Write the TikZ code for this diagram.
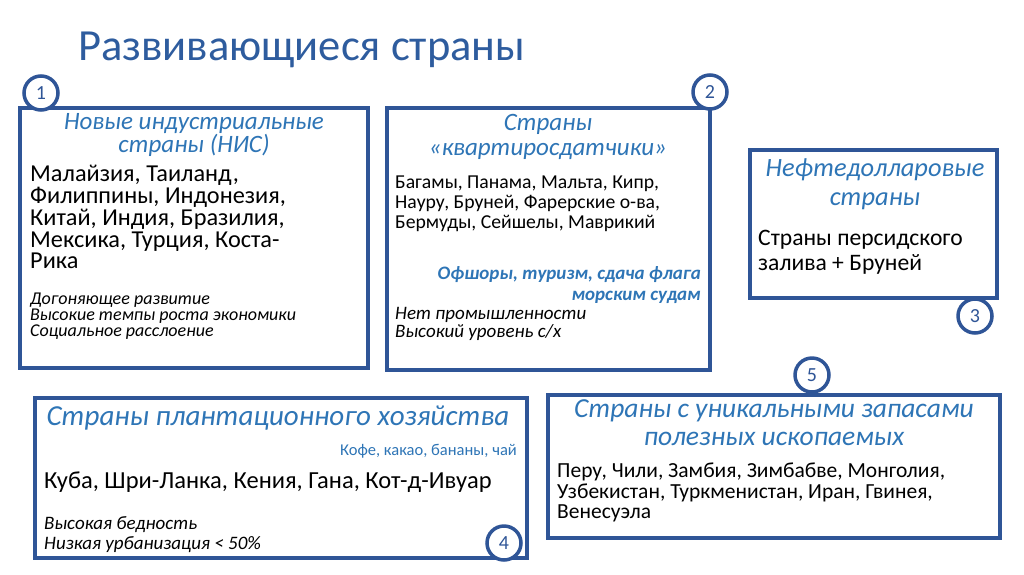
\documentclass[tikz,border=0pt]{standalone}
\usepackage{fontspec}
\setmainfont{Carlito}
\definecolor{bord}{HTML}{2F5597}
\definecolor{ttl}{HTML}{2E5C9E}
\definecolor{hd}{HTML}{2E75B6}
\tikzset{
  box/.style={draw=bord,line width=3.5pt,fill=white},
  num/.style={circle,draw=bord,line width=3.5pt,fill=white,minimum size=34pt,inner sep=0pt,font=\fontsize{20}{20}\selectfont\color{bord}},
  head/.style={align=center,text=hd,inner sep=0pt},
  body/.style={align=left,anchor=north west,inner sep=0pt},
}
\begin{document}
\begin{tikzpicture}[x=1pt,y=-1pt]
\useasboundingbox (0,0) rectangle (1024,574);
\node[anchor=west,text=ttl,font=\fontsize{44.5}{44}\selectfont,inner sep=0pt] (title) at (78,50) {Развивающиеся страны};
% box 1
\draw[box] (20,108) rectangle (368,368);
\node[num] (n1) at (41,93) {1};
\node[head,font=\fontsize{25}{22}\selectfont\itshape] (h1) at (194,135) {Новые индустриальные\\страны (НИС)};
\node[body,font=\fontsize{24.3}{21.8}\selectfont] (b1) at (30,165) {Малайзия, Таиланд,\\Филиппины, Индонезия,\\Китай, Индия, Бразилия,\\Мексика, Турция, Коста-\\Рика};
\node[body,font=\fontsize{18}{16}\selectfont\itshape] (c1) at (30,293) {Догоняющее развитие\\Высокие темпы роста экономики\\Социальное расслоение};
% box 2
\draw[box] (387,108) rectangle (710,370);
\node[num] (n2) at (710,92) {2};
\node[head,font=\fontsize{25}{25}\selectfont\itshape] (h2) at (548,137) {Страны\\«квартиросдатчики»};
\node[body,font=\fontsize{19.7}{20}\selectfont] (b2) at (395,176) {Багамы, Панама, Мальта, Кипр,\\Науру, Бруней, Фарерские о-ва,\\Бермуды, Сейшелы, Маврикий};
\node[align=right,anchor=north east,inner sep=0pt,text=hd,font=\fontsize{19}{21}\selectfont\bfseries\itshape] (o2) at (701,266) {Офшоры, туризм, сдача флага\\морским судам};
\node[body,font=\fontsize{19}{18}\selectfont\itshape] (c2) at (395,307) {Нет промышленности\\Высокий уровень с/х};
% box 3
\draw[box] (750,150) rectangle (997,298);
\node[num] (n3) at (975,316) {3};
\node[head,font=\fontsize{26.4}{29}\selectfont\itshape] (h3) at (875,184) {Нефтедолларовые\\страны};
\node[body,font=\fontsize{23.6}{25}\selectfont] (b3) at (758,230) {Страны персидского\\залива + Бруней};
% box 4
\draw[box] (35,398) rectangle (527,558);
\node[head,font=\fontsize{29}{29}\selectfont\itshape] (h4) at (278,418) {Страны плантационного хозяйства};
\node[anchor=east,inner sep=0pt,text=hd,font=\fontsize{16.5}{16}\selectfont] (k4) at (517,451) {Кофе, какао, бананы, чай};
\node[anchor=west,inner sep=0pt,font=\fontsize{24.5}{24}\selectfont] (b4) at (44,482) {Куба, Шри-Ланка, Кения, Гана, Кот-д-Ивуар};
\node[body,font=\fontsize{19}{20}\selectfont\itshape] (c4) at (44,516) {Высокая бедность\\Низкая урбанизация < 50\%};
\node[num] (n4) at (504,543) {4};
% box 5
\draw[box] (548,395) rectangle (1000,538);
\node[num] (n5) at (812,375) {5};
\node[head,font=\fontsize{27.5}{28}\selectfont\itshape] (h5) at (774,423) {Страны с уникальными запасами\\полезных ископаемых};
\node[body,font=\fontsize{21.5}{20.5}\selectfont] (b5) at (557,463) {Перу, Чили, Замбия, Зимбабве, Монголия,\\Узбекистан, Туркменистан, Иран, Гвинея,\\Венесуэла};
\end{tikzpicture}
\end{document}
